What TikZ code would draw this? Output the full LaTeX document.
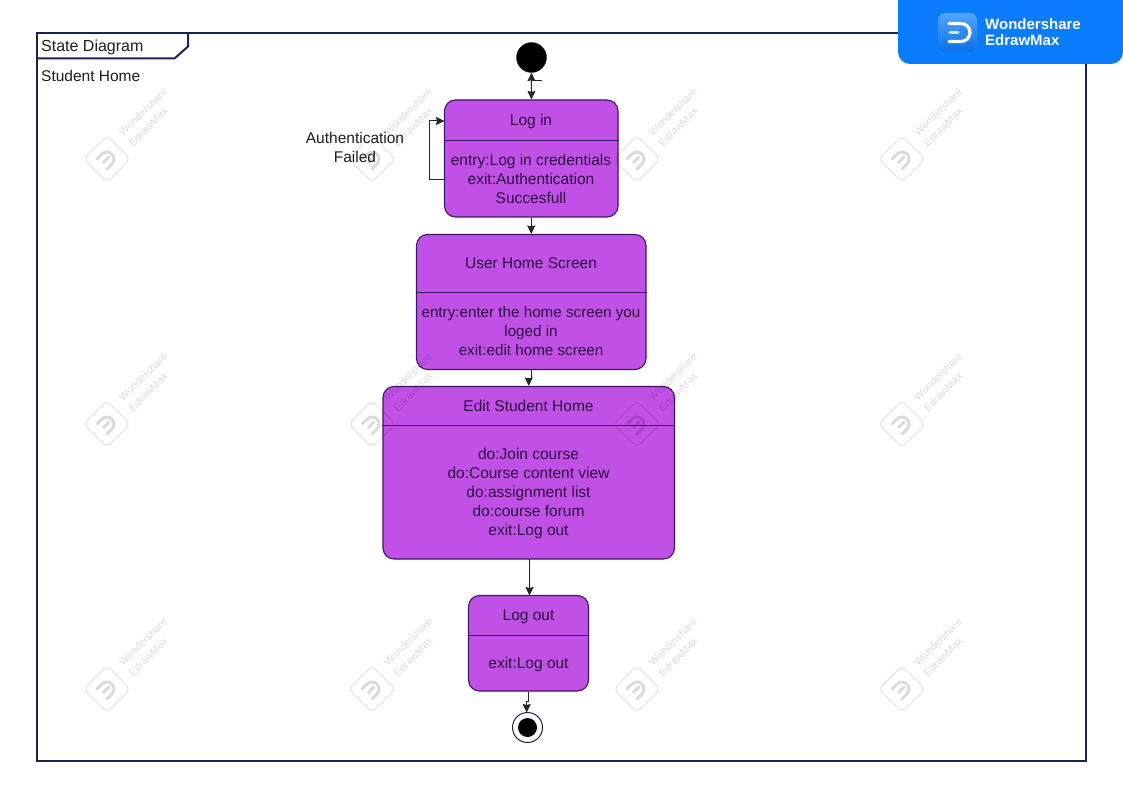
\documentclass[tikz,border=0pt]{standalone}
\usepackage{fontspec}
\setmainfont{Liberation Sans}
\usetikzlibrary{positioning, arrows.meta}
\definecolor{statefill}{HTML}{C151E6}
\definecolor{stateline}{HTML}{3A1668}
\definecolor{statetext}{HTML}{2C0B40}
\definecolor{framecolor}{HTML}{1E2250}
\definecolor{brandblue}{HTML}{0A7DFF}
\tikzstyle{state} = [rectangle, rounded corners=11, draw=stateline, fill=statefill, line width=1.1pt, inner sep=0pt]
\tikzstyle{state_text} = [text=statetext, align=center, inner sep=0pt, font=\fontsize{15.5}{19}\selectfont]
\tikzstyle{plain_text} = [text=black!88, align=center, inner sep=0pt, font=\fontsize{15.5}{19}\selectfont]
\tikzstyle{divider} = [line width=1pt, stateline]
\tikzstyle{step_arrow} = [line width=1pt, black!85, -{Stealth[length=8.5pt, width=8pt, inset=1pt]}]
\tikzstyle{mark_text} = [rotate=45, inner sep=0pt, font=\fontsize{10.5}{12}\selectfont]

\begin{document}
\begin{tikzpicture}[x=1pt, y=-1pt]

    \useasboundingbox (0,0) rectangle (1123,794);
    \fill [white] (0,0) rectangle (1123,794);

    % outer frame and its tab
    \draw [framecolor, line width=2pt] (37,33.5) rectangle (1086,761);
    \draw [framecolor, line width=2pt] (188,33.5) -- (188,46.5) -- (174.5,58.5) -- (37,58.5);
    \node (frametitle) [plain_text, anchor=west, font=\fontsize{16}{19}\selectfont] at (41,47) {State Diagram};
    \node (framename) [plain_text, anchor=west] at (41,76) {Student Home};

    % state boxes
    \node (login) [state, minimum width=173.5, minimum height=117] at (531.25,158.5) {};
    \node (userhome) [state, minimum width=229.5, minimum height=135] at (531.25,302) {};
    \node (edit) [state, minimum width=291.5, minimum height=172.5] at (528.75,472.75) {};
    \node (logout) [state, minimum width=120, minimum height=95.5] at (528.5,643.25) {};

    \draw [divider] (login.west |- 0,140.5) -- (login.east |- 0,140.5);
    \draw [divider] (userhome.west |- 0,292.5) -- (userhome.east |- 0,292.5);
    \draw [divider] (edit.west |- 0,425.5) -- (edit.east |- 0,425.5);
    \draw [divider] (logout.west |- 0,635.5) -- (logout.east |- 0,635.5);

    \node (logintitle) [state_text] at (531,121) {Log in};
    \node (loginbody) [state_text] at (531,178.5) {entry:Log in credentials\\exit:Authentication\\Succesfull};
    \node (hometitle) [state_text] at (531,263) {User Home Screen};
    \node (homebody) [state_text, font=\fontsize{15.2}{19}\selectfont] at (531,331.5) {entry:enter the home screen you\\loged in\\exit:edit home screen};
    \node (edittitle) [state_text] at (528.5,406) {Edit Student Home};
    \node (editbody) [state_text] at (528.5,493) {do:Join course\\do:Course content view\\do:assignment list\\do:course forum\\exit:Log out};
    \node (logouttitle) [state_text] at (528.5,616.5) {Log out};
    \node (logoutbody) [state_text] at (528.5,664) {exit:Log out};

    % start and end
    \node (start) [circle, fill=black, draw=framecolor, inner sep=0pt, minimum size=30] at (531.5,57.5) {};
    \node (finish) [circle, draw=framecolor, fill=white, line width=1pt, inner sep=0pt, minimum size=30] at (527.5,727.5) {};
    \node (finishdot) [circle, fill=black, inner sep=0pt, minimum size=19] at (527.5,727.5) {};

    % connectors
    \draw [step_arrow, {Stealth[length=8.5pt, width=8pt, inset=1pt]}-{Stealth[length=8.5pt, width=8pt, inset=1pt]}] (start) -- (login);
    \coordinate (ticka) at (531.5,81);
    \coordinate (tickb) at (541.5,81);
    \draw [line width=1pt, black!85] (ticka) -- (tickb);
    \draw [step_arrow] (login.south) -- (userhome.north);
    \draw [step_arrow] (userhome.south) -- ++(0,8) -| (edit.north);
    \coordinate (editout) at (529.5,559);
    \coordinate (logoutin) at (529.5,595.5);
    \draw [step_arrow] (editout) -- (logoutin);
    \coordinate (finishin) at (526.7,712.5);
    \draw [step_arrow] (logout.south) -- ++(0,10) -| (finishin);

    \coordinate (loopout) at (444.5,180);
    \coordinate (loopin) at (444.5,121);
    \draw [step_arrow] (loopout) -- (429.5,180) |- (loopin);
    \node (looplabel) [plain_text] at (355,147) {Authentication\\Failed};

    % watermarks
    \begin{scope}[opacity=0.14]
    \foreach \x in {107,372,637,902} {
        \foreach \y in {159,424,689} {
            \node (markbox\x\y) [rectangle, rounded corners=5, draw=black, line width=0.8pt, rotate=45, minimum size=33] at (\x,\y) {};
            \begin{scope}[shift={(\x,\y)}, rotate=45]
                \draw [line width=3pt, line cap=round, rounded corners=7] (-7,-7) -- (7,-7) -- (7,7) -- (-7,7);
                \draw [line width=3pt, line cap=round] (-5,0) -- (3,0);
            \end{scope}
            \node (markone\x\y) [mark_text] at (\x+36,\y-47) {Wondershare};
            \node (marktwo\x\y) [mark_text] at (\x+41,\y-32) {EdrawMax};
        }
    }
    \end{scope}

    % brand badge
    \fill [brandblue] (1123,0) -- (898,0) [rounded corners=12] -- (898,64) -- (1123,64) [sharp corners] -- (1123,0) -- cycle;
    \node (brandicon) [rectangle, rounded corners=7, top color=brandblue!70!white, bottom color=brandblue!90!black, minimum size=39, inner sep=0pt] at (957.5,32.5) {};
    \draw [white, line width=3.2pt, line cap=round, rounded corners=9] (949,23.5) -- (970,23.5) -- (970,41.5) -- (949,41.5);
    \draw [white!80!brandblue, line width=3.2pt, line cap=round] (950,32.5) -- (958,32.5);
    \node (brandname) [anchor=west, text=white, align=left, inner sep=0pt, font=\fontsize{15}{16}\bfseries\selectfont] at (985,32) {Wondershare\\EdrawMax};

\end{tikzpicture}
\end{document}
